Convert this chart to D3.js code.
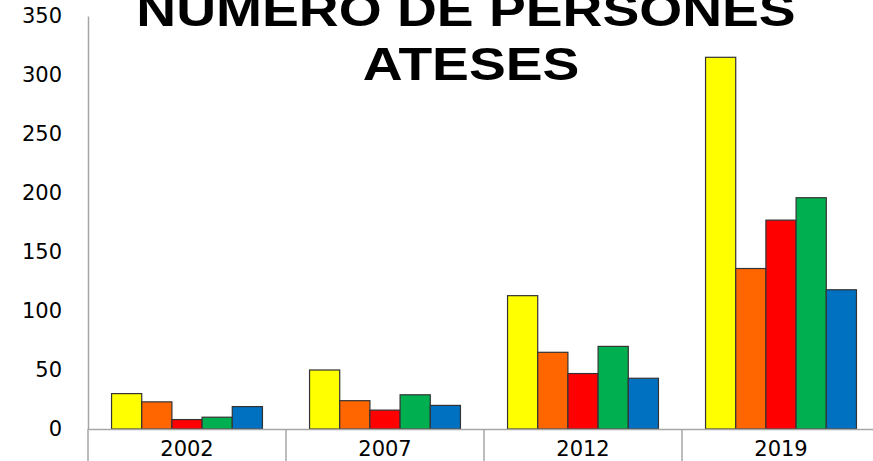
<!DOCTYPE html>
<html><head><meta charset="utf-8">
<script src="https://cdn.jsdelivr.net/npm/d3@7"></script>
<style>body{margin:0;background:#fff}svg{display:block}</style>
</head><body>
<svg id="c" width="873" height="461"></svg>
<script>
const years = ["2002","2007","2012","2019"];
const seriesNames = ["S1","S2","S3","S4","S5"];
const seriesColors = ["#FFFF00","#FF6600","#FF0000","#00B050","#0070C0"];
const s1 = [30, 50, 113, 315];
const s2 = [23, 24, 65, 136];
const s3 = [8, 16, 47, 177];
const s4 = [10, 29, 70, 196];
const s5 = [19, 20, 43, 118];
const yTicks = [0,50,100,150,200,250,300,350];
const titleLines = ["NUMERO DE PERSONES","ATESES"];

(function(){
const values = [s1,s2,s3,s4,s5];
const svg = d3.select("#c");
const mLeft = 88, mRight = 880, mTop = 16, mBottom = 429;

const x0 = d3.scaleBand().domain(years).range([mLeft,mRight]).padding(0);
const x1 = d3.scaleBand().domain(seriesNames).range([0,x0.bandwidth()]).paddingInner(0).paddingOuter(0.78);
const y = d3.scaleLinear().domain([0,350]).range([mBottom,mTop]);

// y axis
const yAxis = d3.axisLeft(y).tickValues(yTicks).tickSize(0).tickPadding(26);
const gy = svg.append("g").attr("transform",`translate(${mLeft},0)`).call(yAxis);
gy.select(".domain").attr("stroke","#a6a6a6").attr("stroke-width",1.5);
gy.selectAll("text").attr("font-family","DejaVu Sans, Verdana, sans-serif").attr("font-size",21).attr("fill","#000");

// bars
const g = svg.append("g");
years.forEach((yr,i)=>{
  seriesNames.forEach((s,j)=>{
    const v = values[j][i];
    g.append("rect")
      .attr("x", x0(yr)+x1(s))
      .attr("y", y(v))
      .attr("width", x1.bandwidth())
      .attr("height", y(0)-y(v))
      .attr("fill", seriesColors[j])
      .attr("stroke","#333")
      .attr("stroke-width",1.2);
  });
});

// x axis
const xAxis = d3.axisBottom(x0).tickSize(0).tickPadding(12);
const gx = svg.append("g").attr("transform",`translate(0,${mBottom})`).call(xAxis);
gx.select(".domain").attr("stroke","#a6a6a6").attr("stroke-width",1.5);
gx.selectAll("text").attr("font-family","DejaVu Sans, Verdana, sans-serif").attr("font-size",21).attr("fill","#000");
const bounds = years.map(d=>x0(d)).concat([mRight]);
gx.selectAll("line.div").data(bounds).enter().append("line")
  .attr("class","div")
  .attr("x1",d=>d).attr("x2",d=>d).attr("y1",0).attr("y2",40)
  .attr("stroke","#a6a6a6").attr("stroke-width",1.5);

// title (horizontally stretched bold sans, first line clipped at top as in reference)
const tg = svg.append("g").attr("transform","translate(468,0) scale(1.2,1)");
const t = tg.append("text").attr("text-anchor","middle")
  .attr("font-family","Liberation Sans, Arial, sans-serif").attr("font-weight","bold")
  .attr("font-size",46).attr("fill","#000");
t.selectAll("tspan").data(titleLines).enter().append("tspan")
  .attr("x",(d,i)=> i===0?-2/1.2:3/1.2).attr("y",(d,i)=>26+i*54).text(d=>d);
})();
</script>
</body></html>
